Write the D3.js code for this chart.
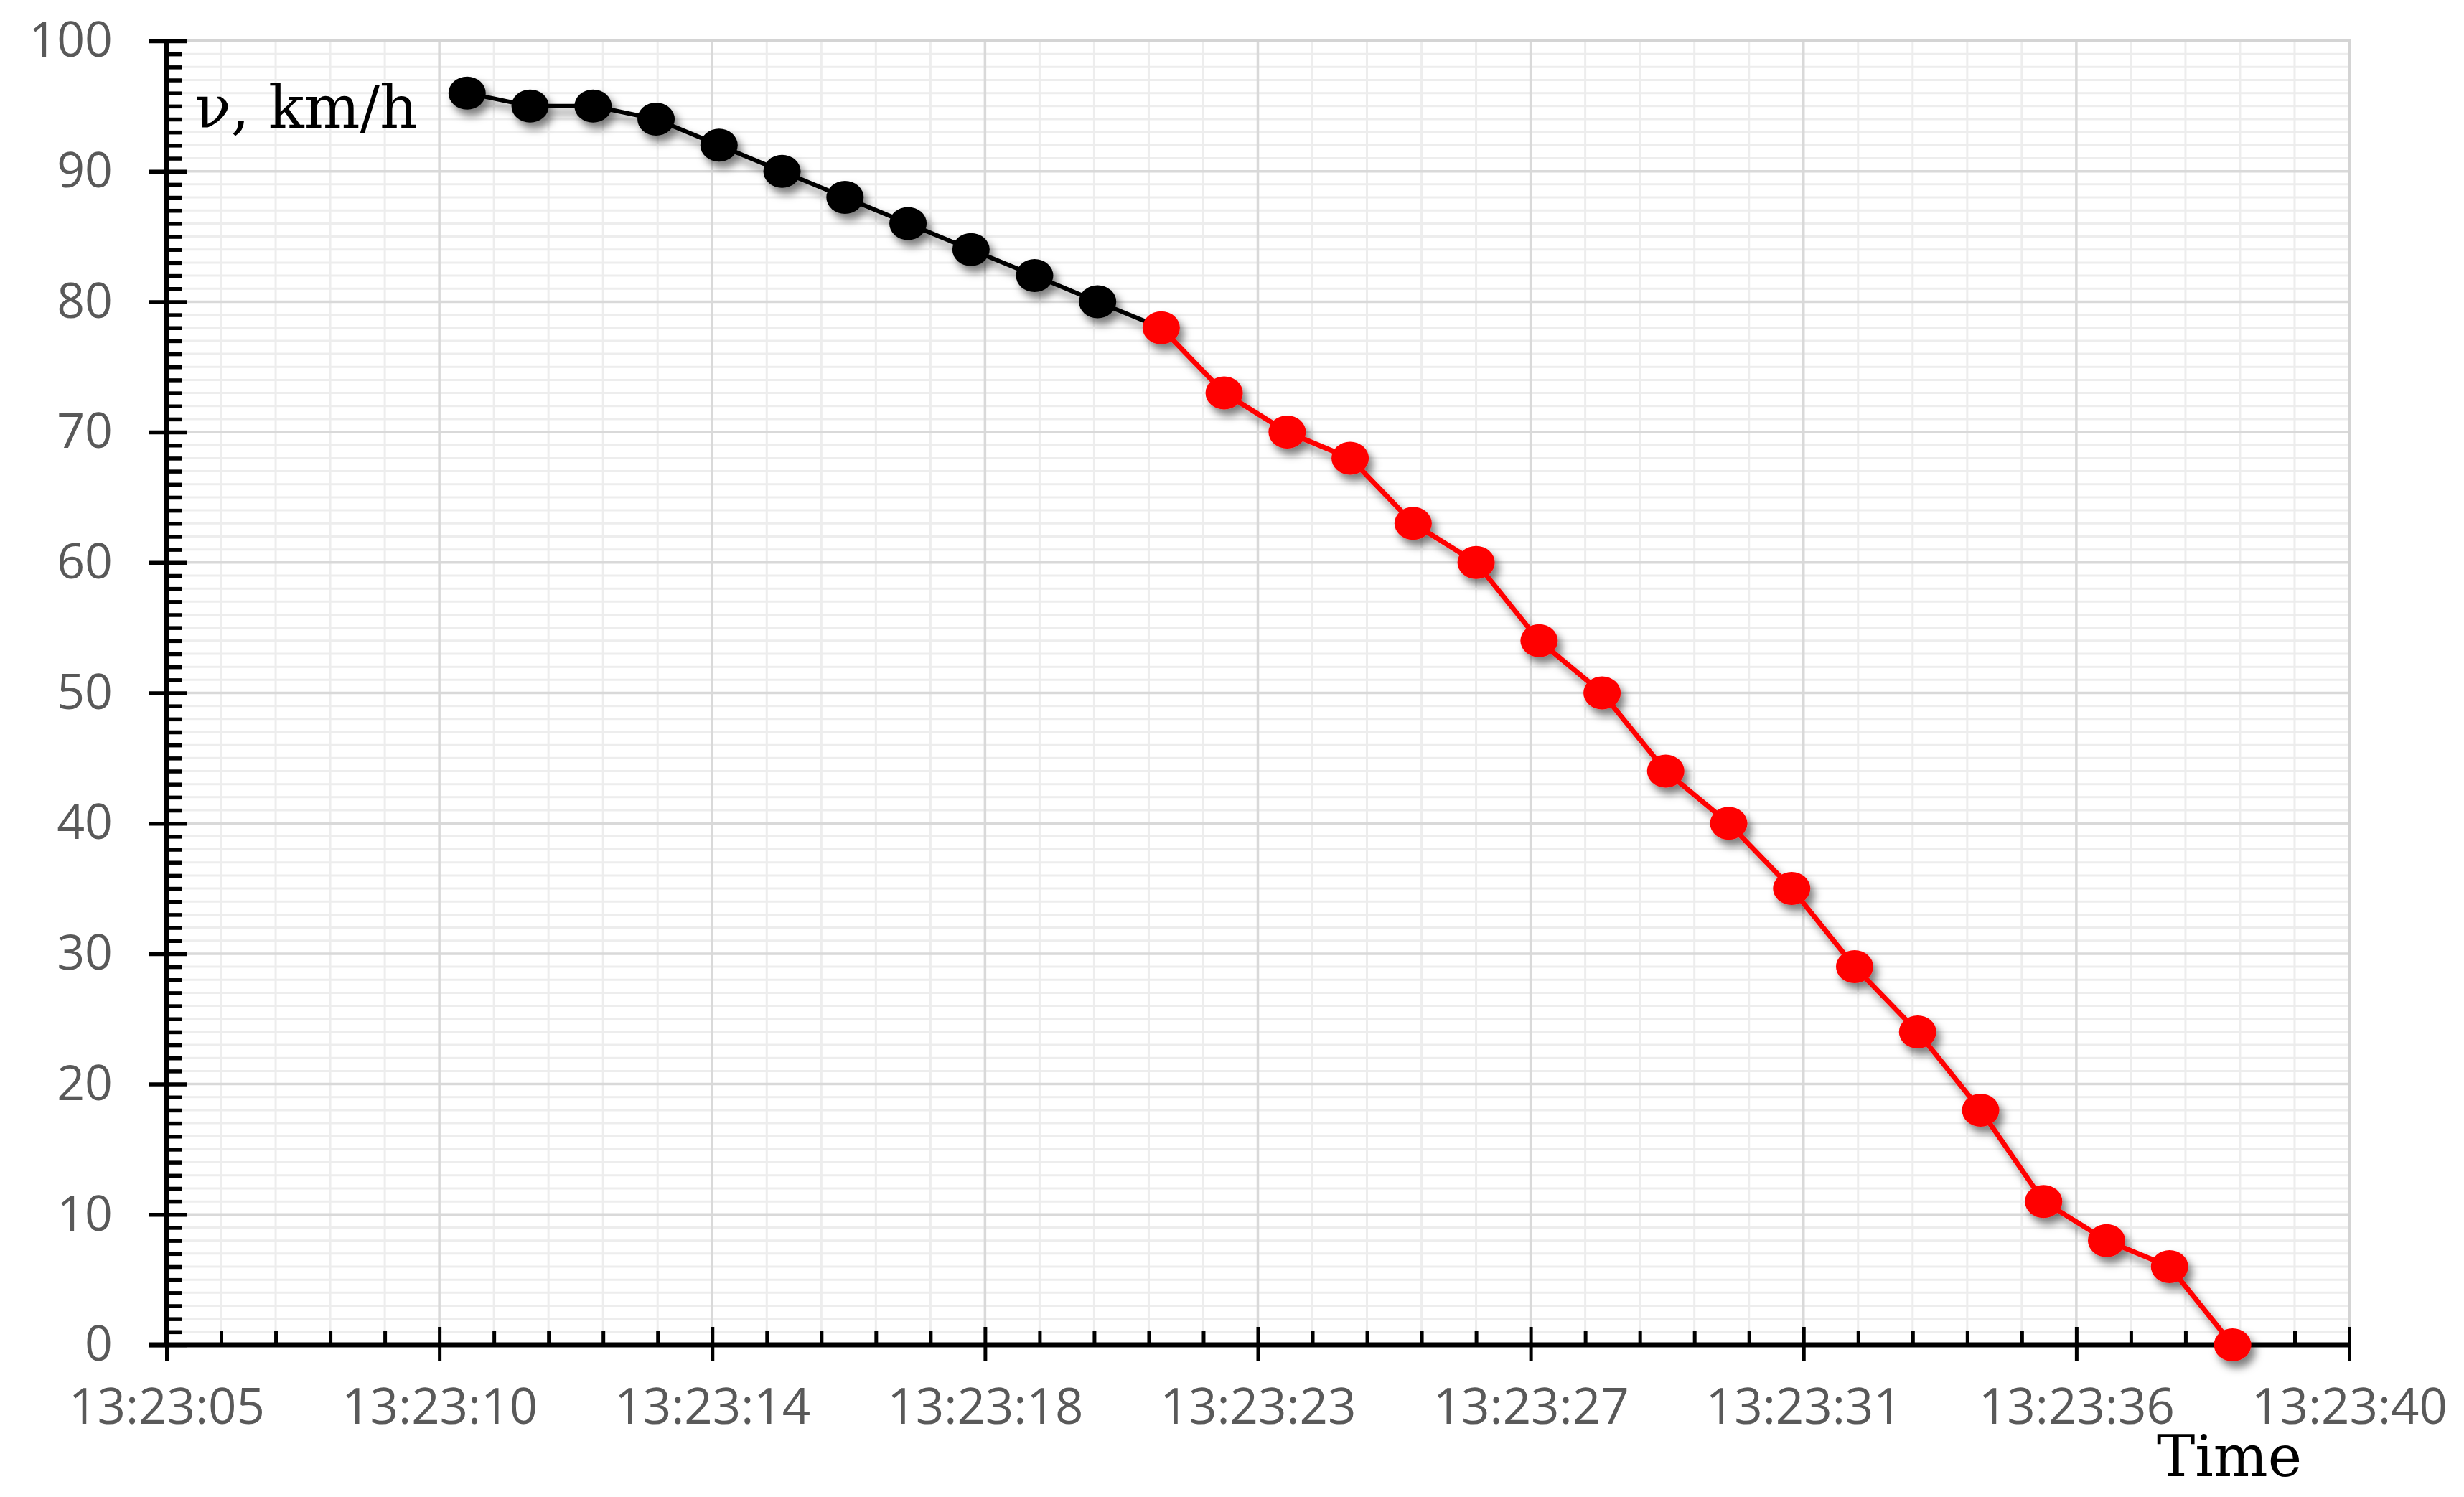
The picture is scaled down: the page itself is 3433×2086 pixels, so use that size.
<!DOCTYPE html>
<html>
<head>
<meta charset="utf-8">
<script src="https://cdn.jsdelivr.net/npm/d3@7"></script>
<style>
  html, body { margin: 0; padding: 0; background: #fff; }
  svg { display: block; }
</style>
</head>
<body>
<div id="chart"></div>
<script>
// seconds after 13:23:00
var times = [9.82, 10.83, 11.84, 12.85, 13.86, 14.87, 15.88, 16.89, 17.90, 18.92,
             19.93, 20.95, 21.96, 22.97, 23.98, 24.99, 26.00, 27.01, 28.02, 29.04,
             30.05, 31.06, 32.07, 33.08, 34.09, 35.10, 36.11, 37.12, 38.13];
// speed, km/h
var speeds = [96, 95, 95, 94, 92, 90, 88, 86, 84, 82,
              80, 78, 73, 70, 68, 63, 60, 54, 50, 44,
              40, 35, 29, 24, 18, 11, 8, 6, 0];
// index of the first red point (braking part)
var redStart = 11;

var xTickLabels = ["13:23:05", "13:23:10", "13:23:14", "13:23:18", "13:23:23",
                   "13:23:27", "13:23:31", "13:23:36", "13:23:40"];
var yTickLabels = ["0", "10", "20", "30", "40", "50", "60", "70", "80", "90", "100"];

var xMin = 5, xMax = 40, xMajor = 4.375, xMinor = 0.875;
var yMin = 0, yMax = 100, yMajor = 10;

var W = 3433, H = 2086;
var pLeft = 232, pRight = 3273, pTop = 57, pBottom = 1874;

var svg = d3.select("#chart").append("svg")
  .attr("width", W).attr("height", H);

var defs = svg.append("defs");
defs.append("filter").attr("id", "shadow")
  .attr("x", "-50%").attr("y", "-50%").attr("width", "200%").attr("height", "200%")
  .append("feDropShadow")
  .attr("dx", 6).attr("dy", 9).attr("stdDeviation", 6)
  .attr("flood-color", "#000").attr("flood-opacity", 0.5);

var x = d3.scaleLinear().domain([xMin, xMax]).range([pLeft, pRight]);
var y = d3.scaleLinear().domain([yMin, yMax]).range([pBottom, pTop]);

var xMajorVals = d3.range(xTickLabels.length).map(function (i) { return xMin + i * xMajor; });
var xMinorVals = d3.range(Math.round((xMax - xMin) / xMinor) + 1)
  .map(function (i) { return xMin + i * xMinor; })
  .filter(function (v, i) { return i % 5 !== 0; });
var yMajorVals = d3.range(yTickLabels.length).map(function (i) { return yMin + i * yMajor; });
var yMinorVals = d3.range(yMax + 1).filter(function (v) { return v % yMajor !== 0; });

// grid
var grid = svg.append("g");
grid.selectAll(".hmin").data(yMinorVals).enter().append("line")
  .attr("x1", pLeft).attr("x2", pRight)
  .attr("y1", function (d) { return y(d); }).attr("y2", function (d) { return y(d); })
  .attr("stroke", "#ededed").attr("stroke-width", 3);
grid.selectAll(".vmin").data(xMinorVals).enter().append("line")
  .attr("y1", pTop).attr("y2", pBottom)
  .attr("x1", function (d) { return x(d); }).attr("x2", function (d) { return x(d); })
  .attr("stroke", "#ededed").attr("stroke-width", 3);
grid.selectAll(".hmaj").data(yMajorVals).enter().append("line")
  .attr("x1", pLeft).attr("x2", pRight)
  .attr("y1", function (d) { return y(d); }).attr("y2", function (d) { return y(d); })
  .attr("stroke", "#d9d9d9").attr("stroke-width", 3.5);
grid.selectAll(".vmaj").data(xMajorVals).enter().append("line")
  .attr("y1", pTop).attr("y2", pBottom)
  .attr("x1", function (d) { return x(d); }).attr("x2", function (d) { return x(d); })
  .attr("stroke", "#d9d9d9").attr("stroke-width", 3.5);
grid.append("rect")
  .attr("x", pLeft).attr("y", pTop).attr("width", pRight - pLeft).attr("height", pBottom - pTop)
  .attr("fill", "none").attr("stroke", "#d4d4d4").attr("stroke-width", 4);

var labelFont = "'Open Sans', 'Noto Sans', sans-serif";

// y axis: minor ticks (inside), major ticks (crossing), labels
var yMinorAxis = svg.append("g").attr("transform", "translate(" + pLeft + ",0)")
  .call(d3.axisRight(y).tickValues(yMinorVals).tickSize(21).tickFormat(""));
var yAxis = svg.append("g").attr("transform", "translate(" + pLeft + ",0)")
  .call(d3.axisLeft(y).tickValues(yMajorVals).tickSize(25).tickPadding(50)
    .tickFormat(function (d, i) { return yTickLabels[i]; }));
yAxis.selectAll(".tick line").attr("x1", 28);
[yMinorAxis, yAxis].forEach(function (g) {
  g.select(".domain").remove();
  g.selectAll(".tick line").attr("stroke", "#000").attr("stroke-width", 5.5);
});
yAxis.selectAll("text")
  .attr("font-family", labelFont).attr("font-size", 68).attr("fill", "#595959");

// x axis
var xMinorAxis = svg.append("g").attr("transform", "translate(0," + pBottom + ")")
  .call(d3.axisTop(x).tickValues(xMinorVals).tickSize(19).tickFormat(""));
var xAxis = svg.append("g").attr("transform", "translate(0," + pBottom + ")")
  .call(d3.axisBottom(x).tickValues(xMajorVals).tickSize(22)
    .tickFormat(function (d, i) { return xTickLabels[i]; }));
xAxis.selectAll(".tick line").attr("y1", -25);
[xMinorAxis, xAxis].forEach(function (g) {
  g.select(".domain").remove();
  g.selectAll(".tick line").attr("stroke", "#000").attr("stroke-width", 5);
});
xAxis.selectAll("text")
  .attr("y", 110).attr("dy", 0)
  .attr("font-family", labelFont).attr("font-size", 69).attr("fill", "#595959");

// axis lines
svg.append("line").attr("x1", pLeft).attr("x2", pLeft).attr("y1", pTop - 3).attr("y2", pBottom + 3)
  .attr("stroke", "#000").attr("stroke-width", 7);
svg.append("line").attr("x1", pLeft - 25).attr("x2", pRight + 2).attr("y1", pBottom).attr("y2", pBottom)
  .attr("stroke", "#000").attr("stroke-width", 7);

// series
var pts = times.map(function (t, i) { return { t: t, v: speeds[i], i: i }; });
var line = d3.line().x(function (d) { return x(d.t); }).y(function (d) { return y(d.v); });

var series = svg.append("g").attr("filter", "url(#shadow)");
series.append("path").datum(pts.slice(0, redStart + 1))
  .attr("d", line).attr("fill", "none").attr("stroke", "#000").attr("stroke-width", 6);
series.append("path").datum(pts.slice(redStart))
  .attr("d", line).attr("fill", "none").attr("stroke", "#ff0000").attr("stroke-width", 7);
series.selectAll("ellipse").data(pts).enter().append("ellipse")
  .attr("cx", function (d) { return x(d.t); })
  .attr("cy", function (d) { return y(d.v); })
  .attr("rx", 26).attr("ry", 23)
  .attr("fill", function (d) { return d.i < redStart ? "#000" : "#ff0000"; });

// axis titles
svg.append("text").attr("x", 272).attr("y", 178)
  .attr("font-family", "'DejaVu Serif', serif").attr("font-size", 82).attr("fill", "#000")
  .text("ν, km/h");
svg.append("text").attr("x", 3106).attr("y", 2057).attr("text-anchor", "middle")
  .attr("font-family", "'DejaVu Serif', serif").attr("font-size", 80).attr("fill", "#000")
  .text("Time");
</script>
</body>
</html>
